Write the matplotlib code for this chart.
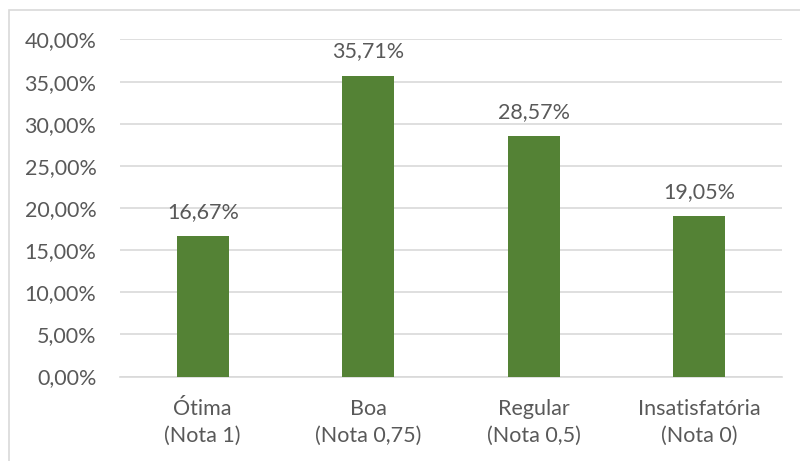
import matplotlib.pyplot as plt
from matplotlib.patches import Rectangle

categories = ["Ótima\n(Nota 1)", "Boa\n(Nota 0,75)", "Regular\n(Nota 0,5)", "Insatisfatória\n(Nota 0)"]
values = [16.67, 35.71, 28.57, 19.05]
yticks = [0, 5, 10, 15, 20, 25, 30, 35, 40]

plt.rcParams['font.family'] = ['Lato', 'DejaVu Sans']
text_color = '#595959'
bar_color = '#548235'
grid_color = '#d9d9d9'
fs = 15.5

W, H = 800, 461
fig = plt.figure(figsize=(W / 100, H / 100), dpi=100)
ax = fig.add_axes([120 / W, 1 - 376.5 / H, (782 - 120) / W, (376.5 - 39.5) / H])

x = list(range(len(categories)))
bars = ax.bar(x, values, width=0.315, color=bar_color, zorder=3)
for xi, v in zip(x, values):
    ax.text(xi, v + 2.15, f"{v:.2f}%".replace('.', ','), ha='center', va='baseline',
            fontsize=fs, color=text_color)

ax.set_xlim(-0.5, len(categories) - 0.5)
ax.set_ylim(0, 40)
ax.set_yticks(yticks)
ax.set_yticklabels([f"{t:.2f}%".replace('.', ',') for t in yticks])
ax.set_xticks(x)
ax.set_xticklabels(categories, linespacing=1.45)
ax.tick_params(axis='both', length=0, colors=text_color, labelsize=fs)
ax.tick_params(axis='y', pad=17)
ax.tick_params(axis='x', pad=16)
ax.grid(axis='y', color=grid_color, linewidth=1.2, zorder=0)
for s in ['top', 'right', 'left']:
    ax.spines[s].set_visible(False)
ax.spines['bottom'].set_color(grid_color)
ax.spines['bottom'].set_linewidth(1.2)

# chart frame
fig.patches.append(Rectangle((8.5 / W, -0.1), 1.0, 1.1 - 10 / H, transform=fig.transFigure,
                             fill=False, edgecolor=grid_color, linewidth=1.2))

fig.savefig('out.png', dpi=100)
